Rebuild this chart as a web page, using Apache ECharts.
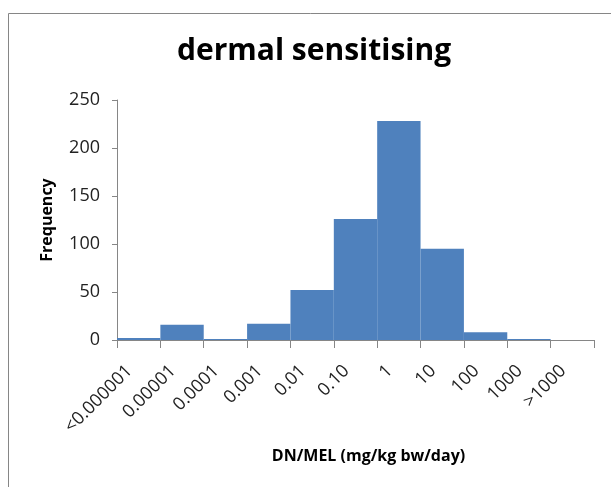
<!DOCTYPE html>
<html>
<head>
<meta charset="utf-8">
<style>
  html, body { margin: 0; padding: 0; background: #fff; }
  #chart { width: 611px; height: 487px; }
</style>
<script src="https://cdn.jsdelivr.net/npm/echarts@6/dist/echarts.min.js"></script>
</head>
<body>
<div id="chart"></div>
<script>
const categories = ['<0.000001', '0.00001', '0.0001', '0.001', '0.01', '0.10', '1', '10', '100', '1000', '>1000'];
const frequency = [2, 16, 1, 17, 52, 126, 228, 95, 8, 1, 0];
const yTicks = { min: 0, max: 250, interval: 50 };

const FONT = 'Open Sans';
const chart = echarts.init(document.getElementById('chart'), null, { renderer: 'canvas' });
chart.setOption({
  backgroundColor: '#ffffff',
  animation: false,
  title: {
    text: 'dermal sensitising',
    left: 172,
    top: 31,
    textStyle: { fontFamily: FONT, fontWeight: 'bold', fontSize: 30, color: '#000' }
  },
  graphic: [{
    type: 'rect',
    shape: { x: 8.5, y: 13.5, width: 800, height: 700 },
    style: { fill: 'none', stroke: '#868686', lineWidth: 1 },
    silent: true
  }],
  grid: { left: 117, right: 17, top: 100, bottom: 147, containLabel: false },
  xAxis: {
    type: 'category',
    data: categories,
    name: 'DN/MEL (mg/kg bw/day)',
    nameLocation: 'middle',
    nameGap: 108,
    nameTextStyle: { fontFamily: FONT, fontWeight: 'bold', fontSize: 16, color: '#000', padding: [0, 0, 0, 26] },
    axisLine: { lineStyle: { color: '#868686', width: 1 } },
    axisTick: { show: true, alignWithLabel: false, length: 8, lineStyle: { color: '#868686' } },
    axisLabel: { rotate: 45, fontFamily: FONT, fontSize: 18, color: '#222', margin: 19, interval: 0, padding: [0, 13, 0, 0] }
  },
  yAxis: {
    type: 'value',
    min: yTicks.min, max: yTicks.max, interval: yTicks.interval,
    name: 'Frequency',
    nameLocation: 'middle',
    nameGap: 62,
    nameRotate: 90,
    nameTextStyle: { fontFamily: FONT, fontWeight: 'bold', fontSize: 16, color: '#000' },
    axisLine: { show: true, lineStyle: { color: '#868686', width: 1 } },
    axisTick: { show: true, length: 5, lineStyle: { color: '#868686' } },
    splitLine: { show: false },
    axisLabel: { fontFamily: FONT, fontSize: 18, color: '#222', margin: 17 }
  },
  series: [{
    type: 'bar',
    data: frequency,
    barCategoryGap: '0%',
    itemStyle: { color: '#4F81BD' }
  }]
});
</script>
</body>
</html>
